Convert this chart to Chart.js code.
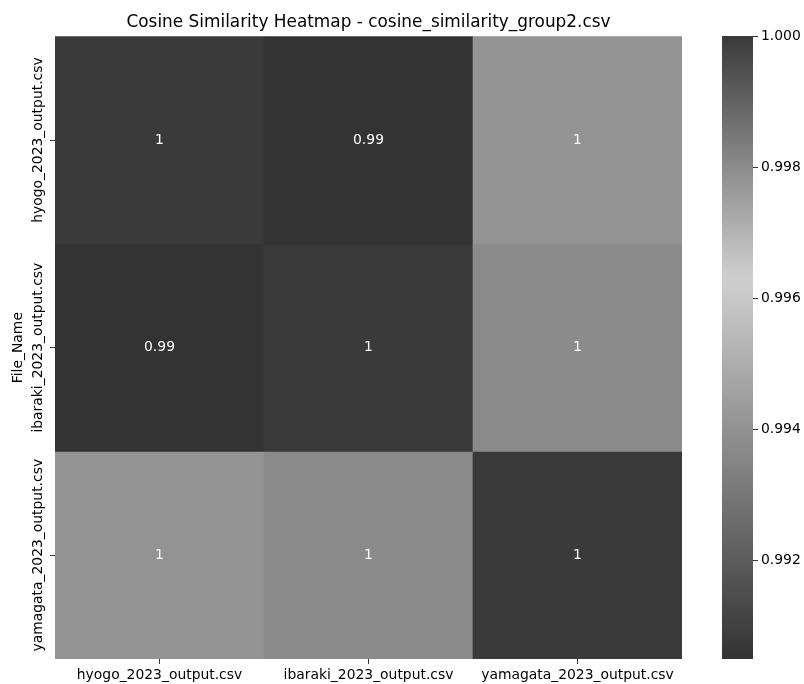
<!DOCTYPE html>
<html>
<head>
<meta charset="utf-8">
<script src="https://cdn.jsdelivr.net/npm/chart.js@4.4.1/dist/chart.umd.min.js"></script>
<style>
  html, body { margin: 0; padding: 0; background: #fff; }
  #wrap { position: relative; width: 804px; height: 684px; }
  #heat { position: absolute; left: 0; top: 0; }
  #bar { position: absolute; left: 700px; top: 0; }
</style>
</head>
<body>
<div id="wrap">
  <canvas id="heat" width="804" height="684"></canvas>
  <canvas id="bar" width="104" height="684"></canvas>
</div>
<script>
// Files compared (rows and columns of the matrix)
const fileNames = ['hyogo_2023_output.csv', 'ibaraki_2023_output.csv', 'yamagata_2023_output.csv'];

// Cosine similarity, one row per file
const rowHyogo    = [1.0000, 0.9905, 0.9978];
const rowIbaraki  = [0.9905, 1.0000, 0.9980];
const rowYamagata = [0.9978, 0.9980, 1.0000];
const similarity = [rowHyogo, rowIbaraki, rowYamagata];

// Colour bar tick values
const colorbarTicks = [0.992, 0.994, 0.996, 0.998, 1.000];

const FONT = 'DejaVu Sans';
const TICK_COLOR = '#333333';

const allValues = similarity.flat();
const vmin = Math.min(...allValues);
const vmax = Math.max(...allValues);

// Grey diverging colormap: dark at both ends, light near the middle
const cmapStops = [[0, [51, 51, 51]], [0.61, [208, 208, 208]], [1, [58, 58, 58]]];
function colorAtFraction(t) {
  t = Math.max(0, Math.min(1, t));
  for (let i = 1; i < cmapStops.length; i++) {
    const [t1, c1] = cmapStops[i];
    const [t0, c0] = cmapStops[i - 1];
    if (t <= t1) {
      const f = (t - t0) / (t1 - t0);
      const c = c0.map((a, k) => Math.round(a + (c1[k] - a) * f));
      return `rgb(${c[0]},${c[1]},${c[2]})`;
    }
  }
  const c = cmapStops[cmapStops.length - 1][1];
  return `rgb(${c[0]},${c[1]},${c[2]})`;
}
function colorFor(v) { return colorAtFraction((v - vmin) / (vmax - vmin)); }
function fmtAnnot(v) { return String(parseFloat(v.toPrecision(2))); }

// Cell annotations and rotated row labels
const heatLabels = {
  id: 'heatLabels',
  afterDatasetsDraw(chart) {
    const { ctx, scales: { x, y } } = chart;
    ctx.save();
    ctx.font = `13.9px "${FONT}"`;
    ctx.textAlign = 'center';
    ctx.textBaseline = 'middle';
    ctx.fillStyle = '#ffffff';
    similarity.forEach((row, r) => {
      row.forEach((v, c) => {
        ctx.fillText(fmtAnnot(v), x.getPixelForValue(c), y.getPixelForValue(r + 0.5));
      });
    });
    ctx.restore();
  },
  afterDraw(chart) {
    const { ctx, scales: { y } } = chart;
    ctx.save();
    ctx.font = `13.9px "${FONT}"`;
    ctx.textAlign = 'center';
    ctx.textBaseline = 'middle';
    ctx.fillStyle = '#000000';
    const lx = y.right - 5 - 3 - 9;
    fileNames.forEach((name, i) => {
      ctx.save();
      ctx.translate(lx, y.getPixelForValue(i + 0.5));
      ctx.rotate(-Math.PI / 2);
      ctx.fillText(name, 0, 0);
      ctx.restore();
    });
    ctx.restore();
  }
};

new Chart(document.getElementById('heat'), {
  type: 'bar',
  data: {
    labels: fileNames,
    datasets: similarity.map((row, r) => ({
      label: fileNames[r],
      data: row.map(() => [r, r + 1]),
      backgroundColor: row.map(v => colorFor(v)),
      borderWidth: 0,
      barPercentage: 1,
      categoryPercentage: 1
    }))
  },
  options: {
    responsive: false,
    animation: false,
    layout: { padding: { left: 0, right: 122, top: 0, bottom: 0 } },
    plugins: {
      legend: { display: false },
      tooltip: { enabled: false },
      title: {
        display: true,
        fullSize: false,
        text: 'Cosine Similarity Heatmap - cosine_similarity_group2.csv',
        color: '#000',
        font: { family: FONT, size: 16.9, weight: 'normal', lineHeight: 1.2 },
        padding: { top: 12, bottom: 4 }
      }
    },
    scales: {
      x: {
        type: 'category',
        stacked: true,
        offset: true,
        grid: { offset: false, drawOnChartArea: false, drawTicks: true, tickLength: 5, color: TICK_COLOR, lineWidth: 1 },
        border: { display: false },
        ticks: { color: '#000', font: { family: FONT, size: 13.9 }, padding: 3, maxRotation: 0, minRotation: 0 },
        afterFit(s) { s.height = 25; }
      },
      y: {
        type: 'linear',
        stacked: false,
        min: 0,
        max: fileNames.length,
        reverse: true,
        afterBuildTicks(s) { s.ticks = fileNames.map((_, i) => ({ value: i + 0.5 })); },
        grid: { drawOnChartArea: false, drawTicks: true, tickLength: 5, color: TICK_COLOR, lineWidth: 1 },
        border: { display: false },
        ticks: { display: false },
        title: {
          display: true,
          text: 'File_Name',
          color: '#000',
          font: { family: FONT, size: 13.9, lineHeight: 1.2 },
          padding: { top: 10, bottom: 0 }
        },
        afterFit(s) { s.width = 55; }
      }
    }
  },
  plugins: [heatLabels]
});

// Colour bar
new Chart(document.getElementById('bar'), {
  type: 'bar',
  data: {
    labels: [''],
    datasets: [{
      data: [[vmin, vmax]],
      borderWidth: 0,
      barPercentage: 1,
      categoryPercentage: 1,
      backgroundColor(context) {
        const chart = context.chart;
        const ys = chart.scales.y;
        if (!chart.chartArea || !ys) return '#888';
        const y0 = ys.getPixelForValue(vmin);
        const y1 = ys.getPixelForValue(vmax);
        const g = chart.ctx.createLinearGradient(0, y0, 0, y1);
        const n = 60;
        for (let i = 0; i <= n; i++) g.addColorStop(i / n, colorAtFraction(i / n));
        return g;
      }
    }]
  },
  options: {
    responsive: false,
    animation: false,
    layout: { padding: { left: 22, right: 0, top: 36, bottom: 25 } },
    plugins: { legend: { display: false }, tooltip: { enabled: false } },
    scales: {
      x: { display: false, offset: true },
      y: {
        position: 'right',
        min: vmin,
        max: vmax,
        afterBuildTicks(s) { s.ticks = colorbarTicks.map(v => ({ value: v })); },
        grid: { drawOnChartArea: false, drawTicks: true, tickLength: 5, color: TICK_COLOR, lineWidth: 1 },
        border: { display: false },
        ticks: {
          color: '#000',
          font: { family: FONT, size: 13.9 },
          padding: 3,
          callback: v => Number(v).toFixed(3)
        },
        afterFit(s) { s.width = 51; }
      }
    }
  }
});
</script>
</body>
</html>
